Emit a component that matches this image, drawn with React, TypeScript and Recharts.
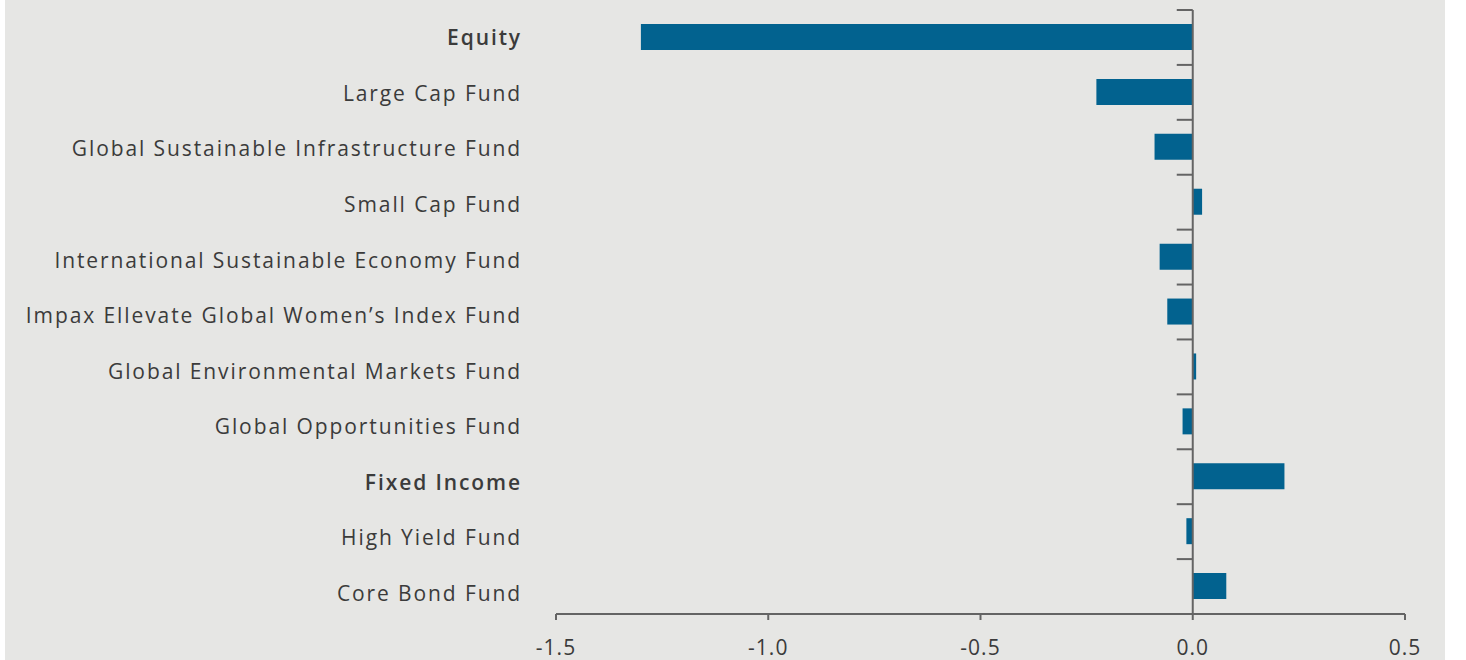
import { BarChart, Bar, XAxis, YAxis, ReferenceLine } from "recharts"

const funds = [
  "Equity",
  "Large Cap Fund",
  "Global Sustainable Infrastructure Fund",
  "Small Cap Fund",
  "International Sustainable Economy Fund",
  "Impax Ellevate Global Women\u2019s Index Fund",
  "Global Environmental Markets Fund",
  "Global Opportunities Fund",
  "Fixed Income",
  "High Yield Fund",
  "Core Bond Fund",
]
const values = [-1.3, -0.227, -0.09, 0.022, -0.078, -0.06, 0.008, -0.024, 0.216, -0.015, 0.079]
const headers = ["Equity", "Fixed Income"]
const xTicks = [-1.5, -1.0, -0.5, 0.0, 0.5]

const AXIS = "#646464"
const TEXT = "#3b3b3b"
const FONT = "'Open Sans', sans-serif"

// tick marks on the zero line sit at the edges of each category band
const boundaries = [
  ...funds.map((f) => ({ y: f, position: "start" as const })),
  { y: funds[funds.length - 1], position: "end" as const },
]

function FundTick({ x, y, payload, index }: any) {
  const bold = headers.includes(payload.value)
  return (
    <text
      x={x + 2}
      y={y}
      dy={7.7 + index * 0.68}
      textAnchor="end"
      fill={TEXT}
      fontSize={21}
      fontFamily={FONT}
      letterSpacing={1.9}
      fontWeight={bold ? 600 : 400}
    >
      {payload.value}
    </text>
  )
}

export default function App() {
  const data = funds.map((name, i) => ({ name, value: values[i] }))

  return (
    <div
      style={{
        position: "absolute",
        left: 5,
        top: 0,
        width: 1440,
        height: 660,
        background: "#e6e6e4",
      }}
    >
      <BarChart
        width={1440}
        height={660}
        data={data}
        layout="vertical"
        margin={{ top: 10, right: 40, bottom: 0, left: 0 }}
      >
        <XAxis
          type="number"
          domain={[-1.5, 0.5]}
          ticks={xTicks}
          tickFormatter={(v: number) => v.toFixed(1)}
          height={46}
          stroke={AXIS}
          strokeWidth={2}
          tickSize={6}
          tickMargin={20}
          tick={{ fill: TEXT, fontSize: 21, fontFamily: FONT, letterSpacing: 1 }}
        />
        <YAxis
          type="category"
          dataKey="name"
          width={551}
          axisLine={false}
          tickLine={false}
          tickMargin={30}
          interval={0}
          tick={<FundTick />}
        />
        <Bar dataKey="value" fill="#02628f" barSize={26} isAnimationActive={false} />
        <ReferenceLine x={0} stroke={AXIS} strokeWidth={2} />
        {boundaries.map((b, i) => (
          <ReferenceLine
            key={i}
            position={b.position}
            segment={[
              { x: -0.0377, y: b.y },
              { x: 0, y: b.y },
            ]}
            stroke={AXIS}
            strokeWidth={2}
          />
        ))}
      </BarChart>
    </div>
  )
}
